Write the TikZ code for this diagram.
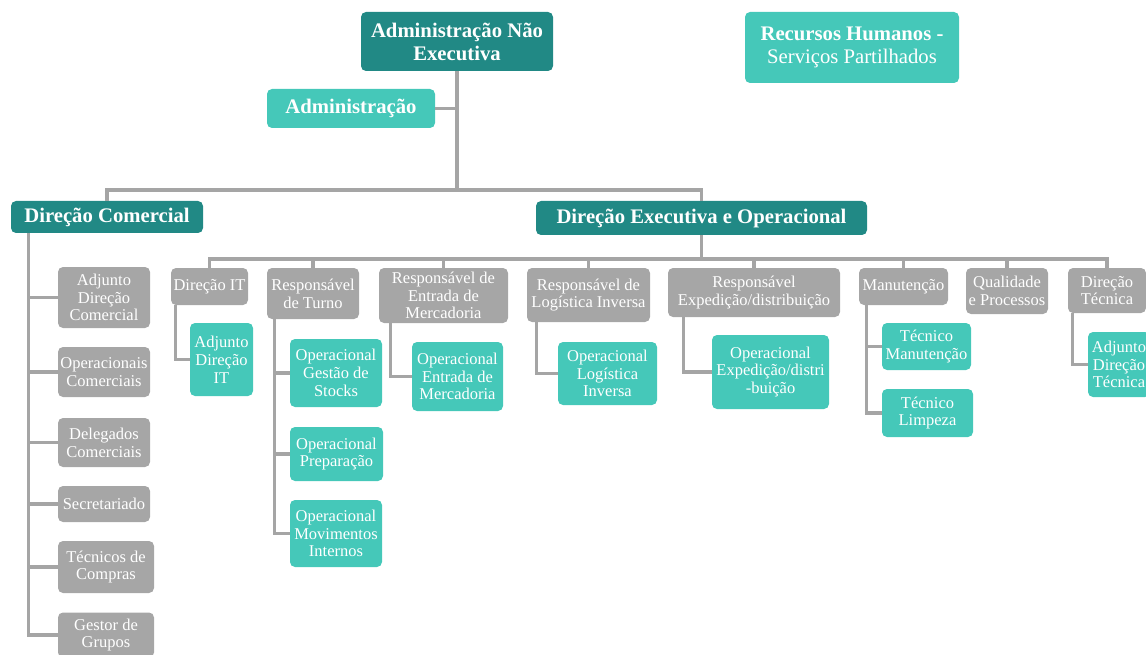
\documentclass[tikz,border=0pt]{standalone}
\usepackage{fontspec}
\setmainfont{Liberation Serif}
\definecolor{dteal}{HTML}{218985}
\definecolor{lteal}{HTML}{45C8B9}
\definecolor{grayc}{HTML}{A6A6A6}
\definecolor{lnc}{HTML}{A5A5A5}
\tikzset{
  box/.style={rounded corners=5pt, text=white, align=center, inner sep=0pt},
  hd/.style={box, fill=dteal, font=\bfseries\fontsize{20.7}{23}\selectfont},
  lt/.style={box, fill=lteal, font=\fontsize{16.5}{17.8}\selectfont},
  gr/.style={box, fill=grayc, font=\fontsize{16.5}{17.8}\selectfont},
  conn/.style={draw=lnc, line width=3.2pt},
  sz/.style 2 args={minimum width=#1, minimum height=#2}
}
\begin{document}
\begin{tikzpicture}[x=1pt,y=-1pt]
\useasboundingbox (0,0) rectangle (1146,655);
\clip (0,0) rectangle (1146,655);
% top level
\node[hd, sz={192}{59}] (top) at (457,41.5) {Administração Não\\Executiva};
\node[lt, sz={214}{71}, font=\fontsize{20.7}{23}\selectfont] (rh) at (852,47.5) {\textbf{Recursos Humanos -}\\Serviços Partilhados};
\node[lt, sz={168}{39}, font=\bfseries\fontsize{20.7}{23}\selectfont] (adm) at (351,108.5) {Administração};
\node[hd, sz={192}{32}] (dc) at (107,217) {Direção Comercial};
\node[hd, sz={331}{34}] (dx) at (701.5,218) {Direção Executiva e Operacional};
% comercial column
\node[gr, sz={92}{61}] (c1) at (104,297.5) {Adjunto\\Direção\\Comercial};
\node[gr, sz={92}{50}] (c2) at (104,372) {Operacionais\\Comerciais};
\node[gr, sz={92}{49}] (c3) at (104,442.5) {Delegados\\Comerciais};
\node[gr, sz={92}{36}] (c4) at (104,504) {Secretariado};
\node[gr, sz={96}{52}] (c5) at (106,567) {Técnicos de\\Compras};
\node[gr, sz={96}{45}] (c6) at (106,635) {Gestor de\\Grupos};
% executive row
\node[gr, sz={77}{37}] (dit) at (209.5,286.5) {Direção IT};
\node[gr, sz={92}{51}] (turno) at (313,293.5) {Responsável\\de Turno};
\node[gr, sz={129}{55}] (ent) at (443.5,295.5) {Responsável de\\Entrada de\\Mercadoria};
\node[gr, sz={123}{54}] (log) at (588.5,295) {Responsável de\\Logística Inversa};
\node[gr, sz={172}{49}] (exp) at (754,292.5) {Responsável\\Expedição/distribuição};
\node[gr, sz={89}{37}] (man) at (903.5,286.5) {Manutenção};
\node[gr, sz={82}{46}] (qual) at (1007,291) {Qualidade\\e Processos};
\node[gr, sz={78}{45}] (dtec) at (1107,290.5) {Direção\\Técnica};
% children
\node[lt, sz={63}{73}] (adit) at (221.5,359.5) {Adjunto\\Direção\\IT};
\node[lt, sz={92}{68}] (ogs) at (336,373) {Operacional\\Gestão de\\Stocks};
\node[lt, sz={93}{54}] (oprep) at (336.5,454) {Operacional\\Preparação};
\node[lt, sz={92}{67}] (omov) at (336,533.5) {Operacional\\Movimentos\\Internos};
\node[lt, sz={91}{69}] (oem) at (457.5,376.5) {Operacional\\Entrada de\\Mercadoria};
\node[lt, sz={99}{63}] (oli) at (607.5,373.5) {Operacional\\Logística\\Inversa};
\node[lt, sz={117}{74}] (oed) at (770.5,372) {Operacional\\Expedição/distri\\-buição};
\node[lt, sz={89}{47}] (tm) at (926.5,346.5) {Técnico\\Manutenção};
\node[lt, sz={91}{48}] (tl) at (927.5,413) {Técnico\\Limpeza};
\node[lt, sz={62}{65}] (adt) at (1119,364.5) {Adjunto\\Direção\\Técnica};
% connectors top
\coordinate (b1) at (457,190);
\draw[conn] (top.south) -- (b1);
\draw[conn] (adm.east) -- (adm.east -| b1);
\draw[conn] (dc.north) |- (b1) -| (dx.north);
% executive bus
\coordinate (b2) at (701.5,259);
\draw[conn] (dx.south) -- (b2);
\draw[conn] (dit.north) |- (b2) -| (dtec.north);
\foreach \n in {turno,ent,log,exp,man,qual} \draw[conn] (\n.north) -- (\n.north |- b2);
% comercial
\coordinate (cv) at ([xshift=18]dc.south west);
\draw[conn] (cv) |- (c6.west);
\foreach \c in {c1,c2,c3,c4,c5} \draw[conn] (\c.west) -- (\c.west -| cv);
% sub branches
\draw[conn] ([xshift=5]dit.south west) |- (adit.west);
\coordinate (tv) at ([xshift=8]turno.south west);
\draw[conn] (tv) |- (omov.west);
\draw[conn] (ogs.west) -- (ogs.west -| tv);
\draw[conn] (oprep.west) -- (oprep.west -| tv);
\draw[conn] ([xshift=12]ent.south west) |- (oem.west);
\draw[conn] ([xshift=10]log.south west) |- (oli.west);
\draw[conn] ([xshift=16]exp.south west) |- (oed.west);
\coordinate (mv) at ([xshift=8]man.south west);
\draw[conn] (mv) |- (tl.west);
\draw[conn] (tm.west) -- (tm.west -| mv);
\draw[conn] ([xshift=5]dtec.south west) |- (adt.west);
\end{tikzpicture}
\end{document}
